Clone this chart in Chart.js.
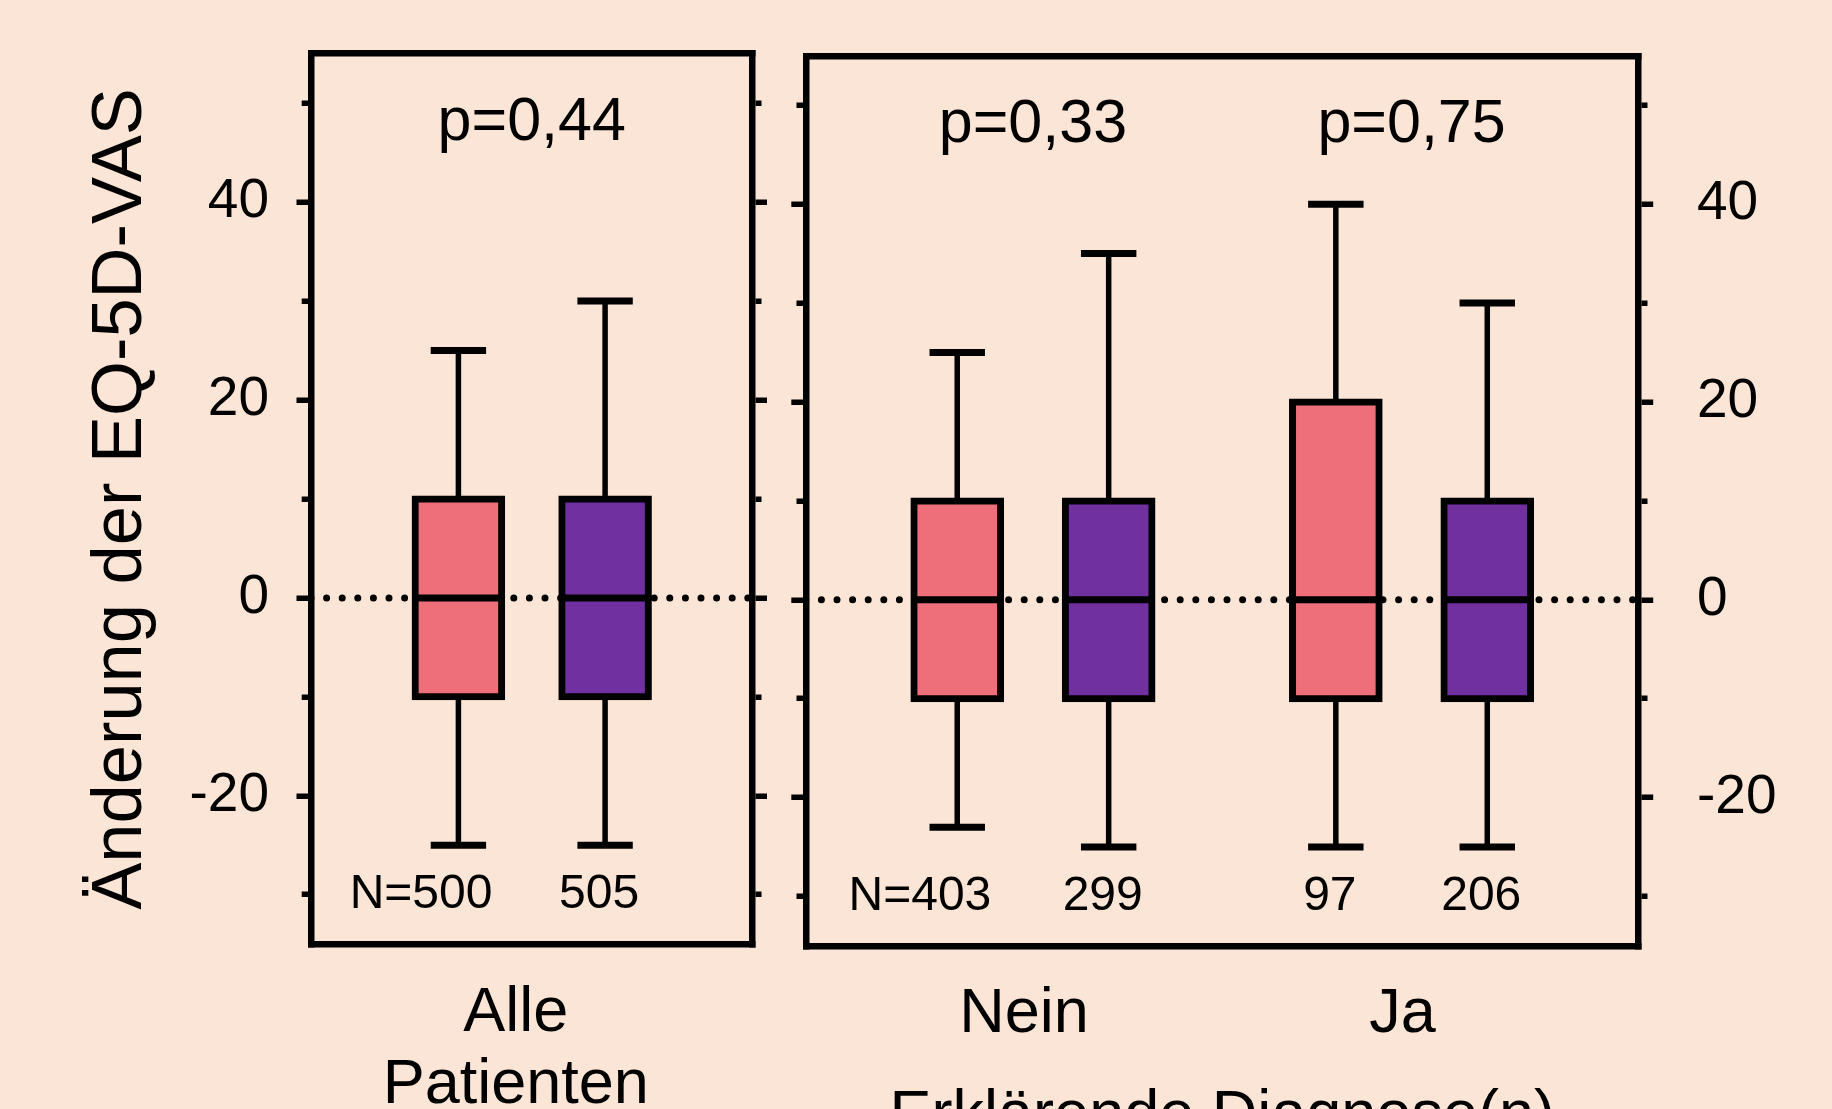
<!DOCTYPE html>
<html>
<head>
<meta charset="utf-8">
<script src="https://cdn.jsdelivr.net/npm/chart.js@4/dist/chart.umd.min.js"></script>
<style>
  html, body { margin: 0; padding: 0; width: 1832px; height: 1109px; overflow: hidden; background: #FBE5D6; }
  canvas { position: absolute; left: 0; top: 0; }
</style>
</head>
<body>
<canvas id="leftPanel" width="1832" height="1200" style="width:1832px;height:1200px"></canvas>
<canvas id="rightPanel" width="1832" height="1200" style="width:1832px;height:1200px"></canvas>
<script>
// ---------------- data ----------------
const categories = ['Alle Patienten', 'Nein', 'Ja'];
const categoryLines = [['Alle', 'Patienten'], ['Nein'], ['Ja']];
const seriesNames = ['Gruppe 1', 'Gruppe 2'];

const pinkMin    = [-25, -23, -25];
const pinkQ1     = [-10, -10, -10];
const pinkMedian = [0, 0, 0];
const pinkQ3     = [10, 10, 20];
const pinkMax    = [25, 25, 40];

const purpleMin    = [-25, -25, -25];
const purpleQ1     = [-10, -10, -10];
const purpleMedian = [0, 0, 0];
const purpleQ3     = [10, 10, 10];
const purpleMax    = [30, 35, 30];

const pinkN   = [500, 403, 97];
const purpleN = [505, 299, 206];
const pLabels = ['p=0,44', 'p=0,33', 'p=0,75'];

const yTicks      = [-30, -20, -10, 0, 10, 20, 30, 40, 50];
const yTickLabels = ['', '-20', '', '0', '', '20', '', '40', ''];
const yAxisTitle = 'Änderung der EQ-5D-VAS';
const xAxisTitle = 'Erklärende Diagnose(n)';
const Y_MIN = -35, Y_MAX = 55;
const P_LABEL_VALUE = 48, N_LABEL_VALUE = -30, ZERO_LINE_VALUE = 0;

// ---------------- style / layout ----------------
const FONT = "'Liberation Sans', Arial, Helvetica, sans-serif";
const W = 1832, H = 1200;
const PINK = '#EE6E79', PURPLE = '#7030A0';
const FRAME = 6.5, BOX = 7, WHISK = 5.5;

const series = [
  { name: seriesNames[0], color: PINK,   min: pinkMin,   q1: pinkQ1,   med: pinkMedian,   q3: pinkQ3,   max: pinkMax,   n: pinkN },
  { name: seriesNames[1], color: PURPLE, min: purpleMin, q1: purpleQ1, med: purpleMedian, q3: purpleQ3, max: purpleMax, n: purpleN }
];

const panels = [
  { canvas: 'leftPanel', cats: [0], area: { left: 311, right: 752.5, top: 53.7, bottom: 944.2 },
    xMin: -0.5, xMax: 0.5, catPct: 0.6645, barPct: 0.59, labelOffset: -16,
    leftLabels: true, rightLabels: false, xTitle: null, xPad: 33.8 },
  { canvas: 'rightPanel', cats: [1, 2], area: { left: 805.8, right: 1638.7, top: 55.8, bottom: 946 },
    xMin: -0.6, xMax: 1.6, catPct: 0.8, barPct: 0.572, labelOffset: -9,
    leftLabels: false, rightLabels: true, xTitle: xAxisTitle, xPad: 32.6 }
];

function yAxis(side, showLabels, p) {
  const isLeft = side === 'left';
  return {
    type: 'linear', position: side, min: Y_MIN, max: Y_MAX,
    afterBuildTicks: s => { s.ticks = yTicks.map(v => ({ value: v })); },
    afterFit: s => {
      s.width = isLeft ? p.area.left : W - p.area.right;
      s.paddingTop = 0; s.paddingBottom = 0;
    },
    ticks: {
      display: showLabels, autoSkip: false,
      callback: (v, i) => yTickLabels[i],
      font: { family: FONT, size: 55 }, color: '#000',
      padding: isLeft ? 27.5 : 43.8
    },
    grid: {
      display: true, drawOnChartArea: false, drawTicks: true,
      tickLength: 14.5, tickWidth: 5.5, tickColor: '#000', lineWidth: FRAME,
      tickBorderDash: c => yTickLabels[c.index] !== '' ? [] : (isLeft ? [0, 5.2, 100, 0] : [6, 100])
    },
    border: { display: true, width: FRAME, color: '#000' },
    title: (isLeft && showLabels)
      ? { display: true, text: yAxisTitle, color: '#000', font: { family: FONT, size: 70.5 }, padding: { top: 79, bottom: 0 } }
      : { display: false }
  };
}

function makeBoxPlugin(p) {
  return {
    id: 'boxExtras',
    afterDatasetsDraw(chart) {
      const ctx = chart.ctx, ys = chart.scales.y, xs = chart.scales.x;
      ctx.save();
      ctx.strokeStyle = '#000'; ctx.fillStyle = '#000'; ctx.lineCap = 'butt';
      const line = (x1, y1, x2, y2, w) => { ctx.lineWidth = w; ctx.beginPath(); ctx.moveTo(x1, y1); ctx.lineTo(x2, y2); ctx.stroke(); };
      series.forEach((s, d) => {
        const meta = chart.getDatasetMeta(d);
        meta.data.forEach((el, k) => {
          const c = p.cats[k];
          const x = el.x, w = el.width, capW = w * 0.64;
          const yMin = ys.getPixelForValue(s.min[c]);
          const yQ1 = ys.getPixelForValue(s.q1[c]);
          const yMed = ys.getPixelForValue(s.med[c]);
          const yQ3 = ys.getPixelForValue(s.q3[c]);
          const yMax = ys.getPixelForValue(s.max[c]);
          line(x, yQ3, x, yMax, WHISK);
          line(x - capW / 2, yMax, x + capW / 2, yMax, BOX);
          line(x, yQ1, x, yMin, WHISK);
          line(x - capW / 2, yMin, x + capW / 2, yMin, BOX);
          line(x - w / 2, yMed, x + w / 2, yMed, BOX);
          // N labels
          ctx.font = '48px ' + FONT;
          ctx.textBaseline = 'middle';
          const num = String(s.n[c]);
          const nx = x - 6, ny = ys.getPixelForValue(N_LABEL_VALUE);
          ctx.textAlign = 'center';
          ctx.fillText(num, nx, ny);
          if (d === 0 && k === 0) {
            ctx.textAlign = 'right';
            ctx.fillText('N=', nx - ctx.measureText(num).width / 2, ny);
          }
        });
      });
      ctx.font = '61px ' + FONT;
      ctx.textAlign = 'center'; ctx.textBaseline = 'middle';
      p.cats.forEach((c, k) => ctx.fillText(pLabels[c], xs.getPixelForValue(k), ys.getPixelForValue(P_LABEL_VALUE)));
      ctx.restore();
    }
  };
}

panels.forEach(p => {
  const datasets = series.map(s => ({
    type: 'bar', label: s.name,
    data: p.cats.map((c, k) => ({ x: k, y: [s.q1[c], s.q3[c]] })),
    backgroundColor: s.color, borderColor: '#000', borderWidth: BOX, borderSkipped: false,
    inflateAmount: BOX / 2,
    categoryPercentage: p.catPct, barPercentage: p.barPct, order: 1
  }));
  datasets.push({
    type: 'line', label: 'zero',
    data: [{ x: p.xMin, y: ZERO_LINE_VALUE }, { x: p.xMax, y: ZERO_LINE_VALUE }],
    borderColor: '#000', borderWidth: 7, borderDash: [0, 15.6], borderCapStyle: 'round',
    pointRadius: 0, fill: false, order: 10
  });

  new Chart(document.getElementById(p.canvas), {
    type: 'bar',
    data: { datasets },
    options: {
      responsive: false, animation: false, devicePixelRatio: 1,
      layout: { padding: 0 },
      plugins: { legend: { display: false }, tooltip: { enabled: false } },
      scales: {
        x: {
          type: 'linear', position: 'bottom', min: p.xMin, max: p.xMax, offset: false, bounds: 'data',
          afterBuildTicks: s => { s.ticks = p.cats.map((c, k) => ({ value: k })); },
          afterFit: s => { s.height = H - p.area.bottom; s.paddingLeft = 0; s.paddingRight = 0; },
          ticks: {
            autoSkip: false, maxRotation: 0, minRotation: 0,
            callback: (v, i) => categoryLines[p.cats[i]],
            font: { family: FONT, size: 63, lineHeight: 1.143 }, color: '#000',
            padding: p.xPad, labelOffset: p.labelOffset
          },
          grid: { display: false, drawTicks: false, offset: false, lineWidth: FRAME },
          border: { display: true, width: FRAME, color: '#000' },
          title: p.xTitle
            ? { display: true, text: p.xTitle, color: '#000', font: { family: FONT, size: 63 }, padding: { top: 0, bottom: 46 } }
            : { display: false }
        },
        xTop: {
          type: 'linear', position: 'top', min: p.xMin, max: p.xMax, offset: false,
          afterFit: s => { s.height = p.area.top; s.paddingLeft = 0; s.paddingRight = 0; },
          ticks: { display: false },
          grid: { display: false, drawTicks: false, offset: false, lineWidth: FRAME },
          border: { display: true, width: FRAME, color: '#000' }
        },
        y: yAxis('left', p.leftLabels, p),
        y2: yAxis('right', p.rightLabels, p)
      }
    },
    plugins: [makeBoxPlugin(p)]
  });
});
</script>
</body>
</html>
